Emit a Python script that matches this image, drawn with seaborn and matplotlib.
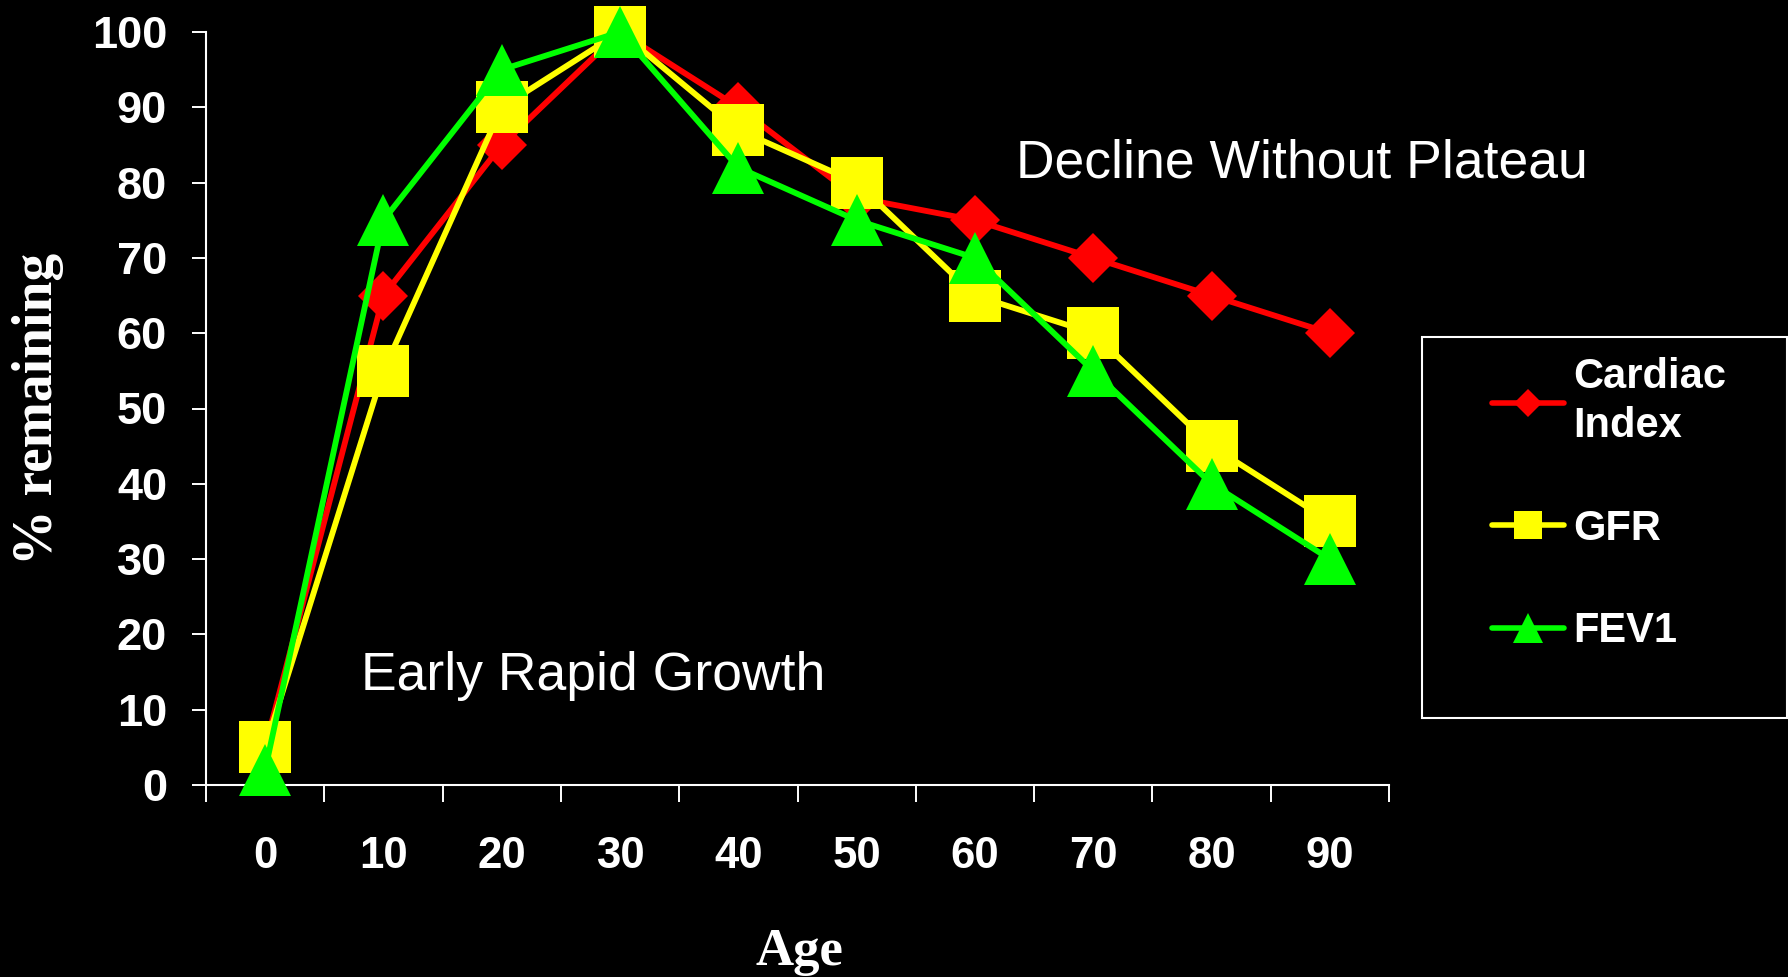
import numpy as np
import pandas as pd
import matplotlib
matplotlib.use("Agg")
import matplotlib.pyplot as plt
from matplotlib.lines import Line2D
from matplotlib.patches import Rectangle
import seaborn as sns

# ---- data ----
ages = [0, 10, 20, 30, 40, 50, 60, 70, 80, 90]
cardiac_index = [5, 65, 85, 100, 90, 78, 75, 70, 65, 60]
gfr = [5, 55, 90, 100, 87, 80, 65, 60, 45, 35]
fev1 = [2, 75, 95, 100, 82, 75, 70, 55, 40, 30]
series_names = ["Cardiac\nIndex", "GFR", "FEV1"]
y_ticks = [0, 10, 20, 30, 40, 50, 60, 70, 80, 90, 100]

colors = ["#FF0000", "#FFFF00", "#00FF00"]
markers = ["D", "s", "^"]
msizes = [25, 37, 37]
leg_msizes = [14, 20, 21]

sns.set_theme(style="ticks")
plt.rcParams["font.family"] = ["Liberation Sans", "DejaVu Sans"]

fig = plt.figure(figsize=(17.88, 9.77), dpi=100, facecolor="black")
ax = fig.add_axes([206 / 1788, 1 - 785 / 977, 1183 / 1788, 753 / 977])
ax.set_facecolor("black")

for name, vals, c, m, ms in zip(series_names, [cardiac_index, gfr, fev1], colors, markers, msizes):
    df = pd.DataFrame({"Age": ages, "value": vals})
    sns.lineplot(data=df, x="Age", y="value", ax=ax, color=c, marker=m,
                 markersize=ms, markeredgewidth=0, linewidth=4.2,
                 clip_on=False, legend=False, errorbar=None, zorder=3)

ax.set_xlim(-5, 95)
ax.set_ylim(0, 100)

# spines
for s in ["top", "right"]:
    ax.spines[s].set_visible(False)
for s in ["left", "bottom"]:
    ax.spines[s].set_color("white")
    ax.spines[s].set_linewidth(1.5)

# y ticks
ax.set_yticks(y_ticks)
ax.set_yticklabels([str(v) for v in y_ticks])
ax.tick_params(axis="y", which="major", direction="out", length=10, width=1.4,
               color="white", labelcolor="white", labelsize=32.5, pad=18)
for t in ax.get_yticklabels():
    t.set_fontweight("bold")

# x ticks: boundaries as major (no labels), categories as minor (labels)
ax.set_xticks([a - 5 for a in ages] + [ages[-1] + 5])
ax.set_xticklabels([])
ax.set_xticks(ages, minor=True)
ax.set_xticklabels([str(a) for a in ages], minor=True)
ax.tick_params(axis="x", which="major", direction="out", length=12, width=1.4,
               color="white")
ax.tick_params(axis="x", which="minor", length=0, labelcolor="white",
               labelsize=31.5, pad=37)
for t in ax.get_xticklabels(minor=True):
    t.set_fontweight("bold")

# axis labels
ax.set_ylabel("% remaining", family=["Liberation Serif"], fontweight="bold",
              fontsize=40, color="white")
ax.yaxis.set_label_coords(-0.12, 0.5)
ax.set_xlabel("Age", family=["Liberation Serif"], fontweight="bold",
              fontsize=38, color="white")
ax.xaxis.set_label_coords(0.502, -0.19)

# annotations
ax.text(0.685, 0.807, "Decline Without Plateau", transform=ax.transAxes,
        ha="left", va="baseline", fontsize=38.5, color="white")
ax.text(0.131, 0.126, "Early Rapid Growth", transform=ax.transAxes,
        ha="left", va="baseline", fontsize=38.5, color="white")

# legend
handles = [Line2D([0], [0], color=c, marker=m, markersize=ms, markeredgewidth=0,
                  linewidth=4, solid_capstyle="round")
           for c, m, ms in zip(colors, markers, leg_msizes)]
leg = fig.legend(handles, series_names, loc="upper left",
                 bbox_to_anchor=(1492 / 1788, 1 - 357 / 977),
                 frameon=False, borderpad=0, borderaxespad=0,
                 handlelength=1.73, handletextpad=0.22, labelspacing=1.5,
                 prop={"family": "Liberation Sans", "weight": "bold", "size": 30})
for t in leg.get_texts():
    t.set_color("white")
    t.set_linespacing(1.3)

fig.patches.append(Rectangle((1422 / 1788, 1 - 718 / 977), (1787 - 1422) / 1788,
                             (718 - 337) / 977, transform=fig.transFigure,
                             fill=False, edgecolor="white", linewidth=1.5))

fig.savefig("out.png", dpi=100, facecolor="black")
